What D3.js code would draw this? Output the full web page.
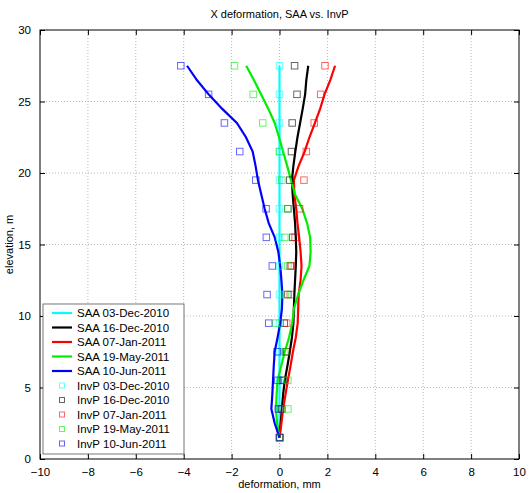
<!DOCTYPE html>
<html lang="en">
<head>
<meta charset="UTF-8">
<title>X deformation, SAA vs. InvP</title>
<script src="https://cdn.jsdelivr.net/npm/d3@7"></script>
<style>
  body { margin: 0; background: #fff; }
  svg { font-family: "Liberation Sans", Arial, sans-serif; }
  .grid line { stroke: #b8b8b8; stroke-dasharray: 1,2; }
</style>
</head>
<body>
<div id="chart"></div>
<script>
// SAA profiles, read every 1 m of elevation
var saaElev = [1.5, 2.5, 3.5, 4.5, 5.5, 6.5, 7.5, 8.5, 9.5, 10.5, 11.5, 12.5, 13.5, 14.5,
               15.5, 16.5, 17.5, 18.5, 19.5, 20.5, 21.5, 22.5, 23.5, 24.5, 25.5, 26.5, 27.5];
var saaDec03 = [0, 0, 0, 0, 0, 0, 0, 0, 0, 0, 0, 0, 0, 0, 0, 0, 0, 0, 0, 0, 0, 0, 0, 0, 0, 0, 0];
var saaDec16 = [0, 0.05, 0.1, 0.15, 0.22, 0.33, 0.43, 0.52, 0.58, 0.6, 0.62, 0.65, 0.68, 0.7,
                0.68, 0.65, 0.6, 0.55, 0.52, 0.58, 0.66, 0.75, 0.86, 0.97, 1.07, 1.12, 1.2];
var saaJan07 = [0, 0.08, 0.15, 0.25, 0.35, 0.46, 0.56, 0.68, 0.76, 0.78, 0.8, 0.88, 0.92, 0.88,
                0.82, 0.75, 0.7, 0.62, 0.6, 0.8, 1.05, 1.25, 1.48, 1.7, 1.88, 2.12, 2.32];
var saaMay19 = [0, -0.1, -0.15, -0.12, -0.08, 0.07, 0.22, 0.4, 0.53, 0.6, 0.78, 1.0, 1.25, 1.3,
                1.28, 1.15, 0.95, 0.65, 0.48, 0.32, 0.15, -0.02, -0.2, -0.47, -0.77, -1.07, -1.39];
var saaJun10 = [0, -0.2, -0.34, -0.3, -0.27, -0.24, -0.2, -0.08, 0.03, 0.1, 0.12, 0.08, 0.03, -0.05,
                -0.2, -0.45, -0.62, -0.76, -0.9, -1.0, -1.12, -1.4, -1.78, -2.4, -2.96, -3.45, -3.86];

// inverse-problem estimates every 2 m
var invElev = [1.5, 3.5, 5.5, 7.5, 9.5, 11.5, 13.5, 15.5, 17.5, 19.5, 21.5, 23.5, 25.5, 27.5];
var invDec03 = [0, 0, 0, 0, 0, 0, 0, 0, 0, 0, 0, 0, 0, 0];
var invDec16 = [0, 0.1, 0.15, 0.28, 0.2, 0.35, 0.45, 0.55, 0.35, 0.43, 0.5, 0.53, 0.73, 0.63];
var invJan07 = [0, 0.05, 0.2, 0.3, 0.3, 0.45, 0.5, 0.65, 0.84, 1.02, 1.12, 1.45, 1.72, 1.9];
var invMay19 = [0, 0.35, 0.35, 0.22, -0.15, 0.25, 0.35, 0.22, 0.35, 0.1, 0, -0.7, -1.1, -1.88];
var invJun10 = [0.02, -0.05, -0.07, -0.1, -0.45, -0.52, -0.3, -0.55, -0.56, -0.99, -1.66, -2.3, -2.96, -4.12];

var xTicks = [-10, -8, -6, -4, -2, 0, 2, 4, 6, 8, 10];
var yTicks = [0, 5, 10, 15, 20, 25, 30];

var colors = ["#00ffff", "#000000", "#ff0000", "#00ee00", "#0000ff"];
var saaNames = ["SAA 03-Dec-2010", "SAA 16-Dec-2010", "SAA 07-Jan-2011", "SAA 19-May-2011", "SAA 10-Jun-2011"];
var invNames = ["InvP 03-Dec-2010", "InvP 16-Dec-2010", "InvP 07-Jan-2011", "InvP 19-May-2011", "InvP 10-Jun-2011"];
var saaSeries = [saaDec03, saaDec16, saaJan07, saaMay19, saaJun10];
var invSeries = [invDec03, invDec16, invJan07, invMay19, invJun10];

var width = 529, height = 493;
var margin = {top: 30, right: 10, bottom: 34, left: 40};

var svg = d3.select("#chart").append("svg")
    .attr("width", width)
    .attr("height", height);

var x = d3.scaleLinear().domain([-10, 10]).range([margin.left, width - margin.right]);
var y = d3.scaleLinear().domain([0, 30]).range([height - margin.bottom, margin.top]);

// dotted grid
var grid = svg.append("g").attr("class", "grid");
grid.selectAll(".gx").data(xTicks.slice(1, -1)).enter().append("line")
    .attr("x1", d => x(d)).attr("x2", d => x(d))
    .attr("y1", y(0)).attr("y2", y(30));
grid.selectAll(".gy").data(yTicks.slice(1, -1)).enter().append("line")
    .attr("x1", x(-10)).attr("x2", x(10))
    .attr("y1", d => y(d)).attr("y2", d => y(d));

// axes, ticks pointing inward like matlab
var fs = 11;
svg.append("g").attr("transform", "translate(0," + y(0) + ")")
    .call(d3.axisBottom(x).tickValues(xTicks).tickSize(-5).tickPadding(9))
    .call(g => g.select(".domain").remove())
    .selectAll("text").style("font-size", "11.5px");
svg.append("g").attr("transform", "translate(0," + y(30) + ")")
    .call(d3.axisTop(x).tickValues(xTicks).tickSize(-5).tickFormat(""))
    .call(g => g.select(".domain").remove());
svg.append("g").attr("transform", "translate(" + x(-10) + ",0)")
    .call(d3.axisLeft(y).tickValues(yTicks).tickSize(-5).tickPadding(9))
    .call(g => g.select(".domain").remove())
    .selectAll("text").style("font-size", "11.5px");
svg.append("g").attr("transform", "translate(" + x(10) + ",0)")
    .call(d3.axisRight(y).tickValues(yTicks).tickSize(-5).tickFormat(""))
    .call(g => g.select(".domain").remove());

svg.append("rect")
    .attr("x", x(-10)).attr("y", y(30))
    .attr("width", x(10) - x(-10)).attr("height", y(0) - y(30))
    .attr("fill", "none").attr("stroke", "#000").attr("stroke-width", 1);

// SAA lines, plotted in legend order (later ones on top)
var line = d3.line()
    .x(d => x(d[0]))
    .y(d => y(d[1]));

saaSeries.forEach(function (s, i) {
    svg.append("path")
        .datum(saaElev.map((e, k) => [s[k], e]))
        .attr("fill", "none")
        .attr("stroke", colors[i])
        .attr("stroke-width", 2.2)
        .attr("d", line);
});

// InvP squares
var sq = 6.5;
invSeries.forEach(function (s, i) {
    svg.append("g").selectAll("rect")
        .data(invElev.map((e, k) => [s[k], e]))
        .enter().append("rect")
        .attr("x", d => x(d[0]) - sq / 2)
        .attr("y", d => y(d[1]) - sq / 2)
        .attr("width", sq).attr("height", sq)
        .attr("fill", "none")
        .attr("stroke", colors[i])
        .attr("stroke-opacity", 0.6)
        .attr("stroke-width", 1);
});

// legend
var lg = svg.append("g");
var lgX = 43, lgY = 304, step = 14.5;
lg.append("rect")
    .attr("x", lgX).attr("y", lgY)
    .attr("width", 141).attr("height", 150)
    .attr("fill", "#fff").attr("stroke", "#555").attr("stroke-width", 0.8);

saaNames.forEach(function (n, i) {
    var yy = lgY + 9 + i * step;
    lg.append("line")
        .attr("x1", lgX + 9).attr("x2", lgX + 29)
        .attr("y1", yy).attr("y2", yy)
        .attr("stroke", colors[i]).attr("stroke-width", 2.2);
    lg.append("text")
        .attr("x", lgX + 34).attr("y", yy + 4)
        .style("font-size", "11.5px")
        .text(n);
});
invNames.forEach(function (n, i) {
    var yy = lgY + 9 + (i + 5) * step;
    lg.append("rect")
        .attr("x", lgX + 19 - 2.5).attr("y", yy - 2.5)
        .attr("width", 5).attr("height", 5)
        .attr("fill", "none").attr("stroke", colors[i])
        .attr("stroke-opacity", 0.6);
    lg.append("text")
        .attr("x", lgX + 34).attr("y", yy + 4)
        .style("font-size", "11.5px")
        .text(n);
});

// titles
svg.append("text")
    .attr("x", (x(-10) + x(10)) / 2).attr("y", 18)
    .attr("text-anchor", "middle")
    .style("font-size", fs + "px")
    .text("X deformation, SAA vs. InvP");
svg.append("text")
    .attr("x", (x(-10) + x(10)) / 2).attr("y", 488)
    .attr("text-anchor", "middle")
    .style("font-size", fs + "px")
    .text("deformation, mm");
svg.append("text")
    .attr("transform", "translate(13," + (y(15)) + ") rotate(-90)")
    .attr("text-anchor", "middle")
    .style("font-size", fs + "px")
    .text("elevation, m");
</script>
</body>
</html>
